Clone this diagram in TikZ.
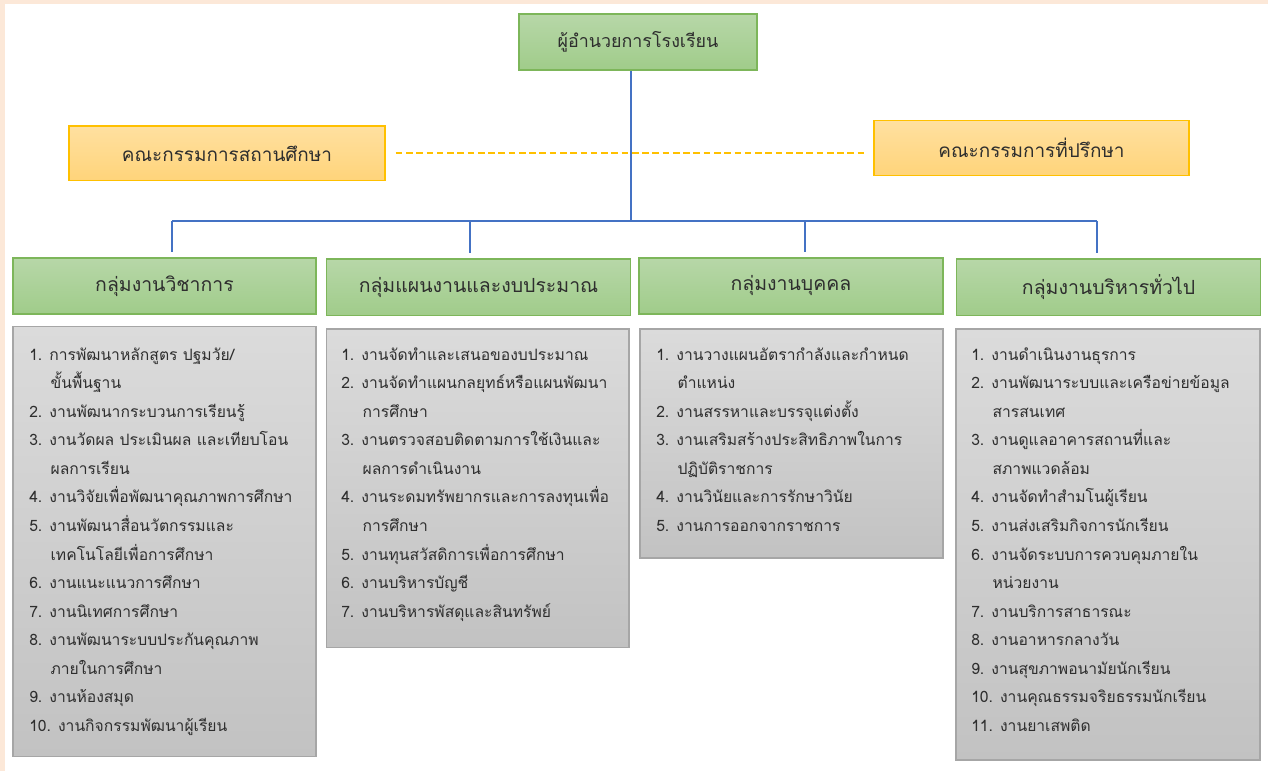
\documentclass[tikz,border=0pt]{standalone}
\usepackage{fontspec}
\newfontfamily\thai[Script=Thai]{Loma}
\definecolor{peach}{HTML}{FCE8D8}
\definecolor{grntop}{HTML}{B7D7A8}
\definecolor{grnbot}{HTML}{A0CC8A}
\definecolor{grnline}{HTML}{7DB65A}
\definecolor{yeltop}{HTML}{FFE0A0}
\definecolor{yelbot}{HTML}{FFD47A}
\definecolor{yelline}{HTML}{FFC000}
\definecolor{grytop}{HTML}{DBDBDB}
\definecolor{grybot}{HTML}{C2C2C2}
\definecolor{gryline}{HTML}{A6A6A6}
\definecolor{blueline}{HTML}{4472C4}
\definecolor{txt}{HTML}{2E2E2E}
\newcommand{\hind}{\hspace*{16pt}}
\newcommand{\firstl}{\rule{0pt}{15pt}}
\begin{document}
\begin{tikzpicture}[x=0.75pt,y=-0.75pt,
  greenbox/.style={draw=grnline,line width=1.1pt,top color=grntop,bottom color=grnbot,
    text=txt,font=\thai\fontsize{14.6}{17}\selectfont,inner sep=0pt},
  yellowbox/.style={draw=yelline,line width=1.1pt,top color=yeltop,bottom color=yelbot,
    text=txt,font=\thai\fontsize{14.2}{16}\selectfont,inner sep=0pt},
  graybox/.style={draw=gryline,line width=1pt,top color=grytop,bottom color=grybot,inner sep=0pt},
  itemlist/.style={anchor=north west,align=left,inner sep=0pt,text=txt,
    font=\thai\fontsize{11.75}{21.4}\selectfont},
  conn/.style={draw=blueline,line width=1.1pt},
  dashline/.style={draw=yelline,line width=1.4pt,dash pattern=on 5pt off 2.7pt}]
\useasboundingbox (0,0) rectangle (1268,771);
\fill[peach] (0,0) rectangle (1268,771);
\fill[white] (5,4) rectangle (1268,771);

% top
\node[greenbox,font=\thai\fontsize{13.4}{16}\selectfont,minimum width=178.5pt,minimum height=42pt] (top) at (638,42) {ผู้อำนวยการโรงเรียน};
% committees
\node[yellowbox,minimum width=237pt,minimum height=41pt] (yl) at (227,153.3) {คณะกรรมการสถานศึกษา};
\node[yellowbox,minimum width=236.25pt,minimum height=41.25pt] (yr) at (1031.5,148.2) {คณะกรรมการที่ปรึกษา};

% group headers
\node[greenbox,minimum width=227.25pt,minimum height=42.2pt] (h1) at (164.5,285.9) {กลุ่มงานวิชาการ};
\node[greenbox,minimum width=228pt,minimum height=42.5pt] (h2) at (478.5,287.4) {กลุ่มแผนงานและงบประมาณ};
\node[greenbox,minimum width=228pt,minimum height=42.2pt] (h3) at (791,285.9) {กลุ่มงานบุคคล};
\node[greenbox,minimum width=228pt,minimum height=42.5pt] (h4) at (1108.6,287.4) {กลุ่มงานบริหารทั่วไป};

% connectors
\coordinate (trunk) at (631,221);
\coordinate (bA) at (172,221);
\coordinate (bB) at (470,221);
\coordinate (bC) at (805,221);
\coordinate (bD) at (1097,221);
\draw[dashline] ([xshift=7.5pt]yl.east) -- ([xshift=-6.75pt]yl.east -| yr.west);
\draw[conn] (top.south -| trunk) -- (trunk);
\draw[conn] (bA) -- (bD);
\draw[conn] (bA) -- ([yshift=3.75pt]bA |- h1.north);
\draw[conn] (bB) -- ([yshift=3.75pt]bB |- h2.north);
\draw[conn] (bC) -- ([yshift=3.75pt]bC |- h3.north);
\draw[conn] (bD) -- ([yshift=3.75pt]bD |- h4.north);

% gray boxes
\node[graybox,minimum width=227.25pt,minimum height=322.5pt] (g1) at (164.5,541.7) {};
\node[graybox,minimum width=226.7pt,minimum height=239pt] (g2) at (477.9,488.4) {};
\node[graybox,minimum width=227.25pt,minimum height=171.75pt] (g3) at (791.5,443.5) {};
\node[graybox,minimum width=228pt,minimum height=323.25pt] (g4) at (1108,544.5) {};

% lists
\node[itemlist] (l1) at (29,340) {\firstl 1. การพัฒนาหลักสูตร ปฐมวัย/\\
\hind ขั้นพื้นฐาน\\
2. งานพัฒนากระบวนการเรียนรู้\\
3. งานวัดผล ประเมินผล และเทียบโอน\\
\hind ผลการเรียน\\
4. งานวิจัยเพื่อพัฒนาคุณภาพการศึกษา\\
5. งานพัฒนาสื่อนวัตกรรมและ\\
\hind เทคโนโลยีเพื่อการศึกษา\\
6. งานแนะแนวการศึกษา\\
7. งานนิเทศการศึกษา\\
8. งานพัฒนาระบบประกันคุณภาพ\\
\hind ภายในการศึกษา\\
9. งานห้องสมุด\\
10. งานกิจกรรมพัฒนาผู้เรียน};

\node[itemlist] (l2) at (341,340) {\firstl 1. งานจัดทำและเสนอของบประมาณ\\
2. งานจัดทำแผนกลยุทธ์หรือแผนพัฒนา\\
\hind การศึกษา\\
3. งานตรวจสอบติดตามการใช้เงินและ\\
\hind ผลการดำเนินงาน\\
4. งานระดมทรัพยากรและการลงทุนเพื่อ\\
\hind การศึกษา\\
5. งานทุนสวัสดิการเพื่อการศึกษา\\
6. งานบริหารบัญชี\\
7. งานบริหารพัสดุและสินทรัพย์};

\node[itemlist] (l3) at (656,340) {\firstl 1. งานวางแผนอัตรากำลังและกำหนด\\
\hind ตำแหน่ง\\
2. งานสรรหาและบรรจุแต่งตั้ง\\
3. งานเสริมสร้างประสิทธิภาพในการ\\
\hind ปฏิบัติราชการ\\
4. งานวินัยและการรักษาวินัย\\
5. งานการออกจากราชการ};

\node[itemlist] (l4) at (971,340) {\firstl 1. งานดำเนินงานธุรการ\\
2. งานพัฒนาระบบและเครือข่ายข้อมูล\\
\hind สารสนเทศ\\
3. งานดูแลอาคารสถานที่และ\\
\hind สภาพแวดล้อม\\
4. งานจัดทำสำมโนผู้เรียน\\
5. งานส่งเสริมกิจการนักเรียน\\
6. งานจัดระบบการควบคุมภายใน\\
\hind หน่วยงาน\\
7. งานบริการสาธารณะ\\
8. งานอาหารกลางวัน\\
9. งานสุขภาพอนามัยนักเรียน\\
10. งานคุณธรรมจริยธรรมนักเรียน\\
11. งานยาเสพติด};
\end{tikzpicture}
\end{document}
